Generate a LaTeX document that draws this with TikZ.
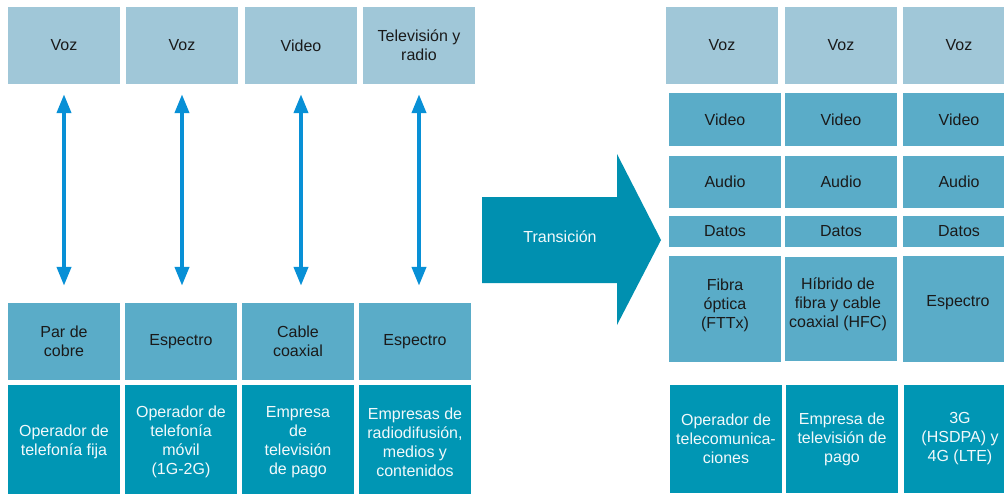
\documentclass[tikz,border=0pt]{standalone}
\usepackage{fontspec}
\setmainfont{Liberation Sans}
\usetikzlibrary{arrows.meta}
\definecolor{cLight}{HTML}{A0C7D8}
\definecolor{cMid}{HTML}{5AACC8}
\definecolor{cDark}{HTML}{0096B4}
\definecolor{cArrow}{HTML}{0890D6}
\definecolor{cTrans}{HTML}{0090B0}
\definecolor{cText}{HTML}{1A1A1A}
\definecolor{cWhite}{HTML}{F2F9FB}
\tikzset{
  cell/.style={minimum width=112pt, inner sep=0pt, align=center, font=\fontsize{16}{19}\selectfont},
  lightcell/.style={cell, fill=cLight, text=cText},
  midcell/.style={cell, fill=cMid, text=cText},
  darkcell/.style={cell, fill=cDark, text=cWhite},
  link/.style={draw=cArrow, line width=4pt, {Triangle[width=14pt,length=19pt]}-{Triangle[width=14pt,length=19pt]}, shorten <=10pt, shorten >=17pt},
}
\begin{document}
\begin{tikzpicture}[x=1pt,y=-1pt]
\useasboundingbox (0,0) rectangle (1004,493);
\clip (0,0) rectangle (1004,493);
% left top row
\node[lightcell, minimum height=77pt] (t1) at (64,45.5) {Voz};
\node[lightcell, minimum height=77pt] (t2) at (182,45.5) {Voz};
\node[lightcell, minimum height=77pt] (t3) at (301,45.5) {Video};
\node[lightcell, minimum height=77pt] (t4) at (419,45.5) {Televisión y\\radio};
% left middle row
\node[midcell, minimum height=77pt] (m1) at (64,341.5) {Par de\\cobre};
\node[midcell, minimum height=77pt] (m2) at (181,341.5) {\raisebox{3pt}{Espectro}};
\node[midcell, minimum height=77pt] (m3) at (298,341.5) {Cable\\coaxial};
\node[midcell, minimum height=77pt] (m4) at (415,341.5) {Espectro};
% left bottom row
\node[darkcell, minimum height=114pt] (b1) at (64,442) {Operador de\\telefonía fija};
\node[darkcell, minimum height=114pt] (b2) at (181,442) {Operador de\\telefonía\\móvil\\(1G-2G)};
\node[darkcell, minimum height=114pt] (b3) at (298,442) {Empresa\\de\\televisión\\de pago};
\node[darkcell, minimum height=114pt] (b4) at (415,442) {Empresas de\\radiodifusión,\\medios y\\contenidos};
% double arrows
\draw[link] (t1.south) -- (t1.south |- m1.north);
\draw[link] (t2.south) -- (t2.south |- m2.north);
\draw[link] (t3.south) -- (t3.south |- m3.north);
\draw[link] (t4.south) -- (t4.south |- m4.north);
% transition arrow
\fill[cTrans] (482,197) -- (617,197) -- (617,154) -- (661,240) -- (617,325) -- (617,283) -- (482,283) -- cycle;
\node[font=\fontsize{16}{19}\selectfont, text=cWhite] (trans) at (560,237) {Transición};
% right top row
\node[lightcell, minimum height=77pt] (r1) at (722,45.5) {Voz};
\node[lightcell, minimum height=77pt] (r2) at (841,45.5) {Voz};
\node[lightcell, minimum height=77pt] (r3) at (959,45.5) {Voz};
% video
\node[midcell, minimum height=53pt] (v1) at (725,119.5) {Video};
\node[midcell, minimum height=53pt] (v2) at (841,119.5) {Video};
\node[midcell, minimum height=53pt] (v3) at (959,119.5) {Video};
% audio
\node[midcell, minimum height=52pt] (a1) at (725,182) {Audio};
\node[midcell, minimum height=52pt] (a2) at (841,182) {Audio};
\node[midcell, minimum height=52pt] (a3) at (959,182) {Audio};
% datos
\node[midcell, minimum height=31pt] (d1) at (725,231.5) {Datos};
\node[midcell, minimum height=31pt] (d2) at (841,231.5) {Datos};
\node[midcell, minimum height=31pt] (d3) at (959,231.5) {Datos};
% fibra row
\node[midcell, minimum height=106pt] (f1) at (725,309) {};
\node[cell, text=cText] (f1t) at (725,305) {Fibra\\óptica\\(FTTx)};
\node[midcell, minimum height=104pt] (f2) at (841,309) {};
\node[cell, text=cText] (f2t) at (838,304) {Híbrido de\\fibra y cable\\coaxial (HFC)};
\node[midcell, minimum height=106pt] (f3) at (959,309) {};
\node[cell, text=cText] (f3t) at (958,303) {Espectro};
% right bottom row
\node[darkcell, minimum height=108pt] (o1) at (726,439) {Operador de\\telecomunica-\\ciones};
\node[darkcell, minimum height=108pt] (o2) at (842,439) {Empresa de\\televisión de\\pago};
\node[darkcell, minimum height=108pt] (o3) at (960,439) {3G\\(HSDPA) y\\4G (LTE)};
\end{tikzpicture}
\end{document}
